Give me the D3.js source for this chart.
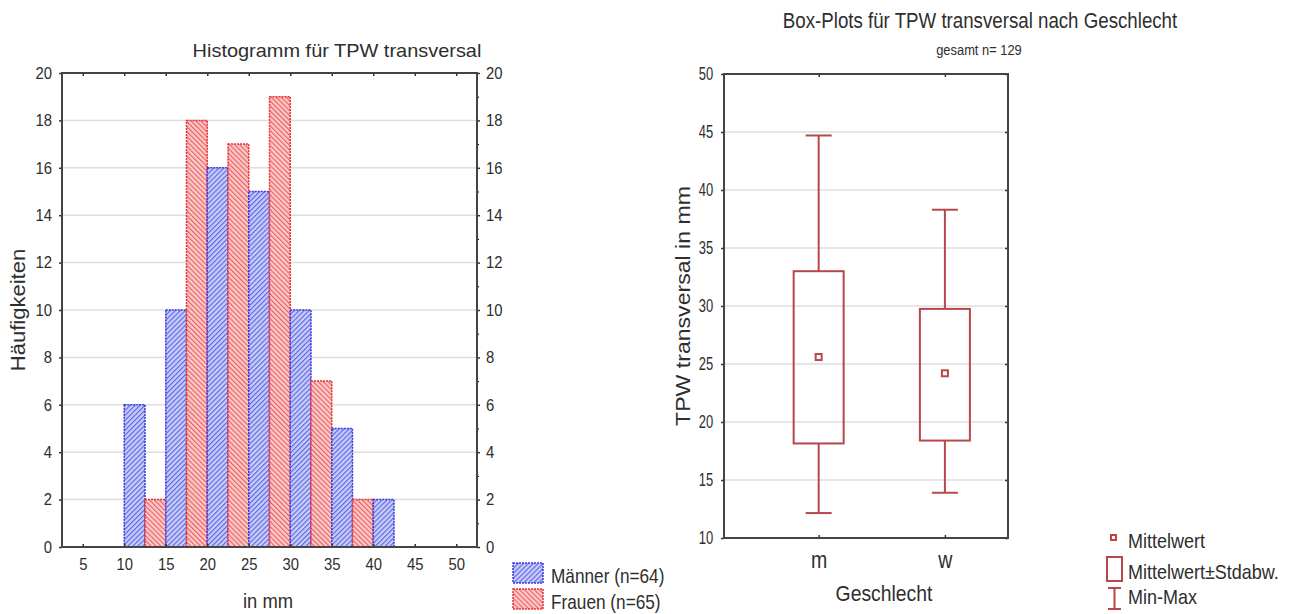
<!DOCTYPE html>
<html lang="de">
<head>
<meta charset="UTF-8">
<title>TPW transversal</title>
<script src="https://d3js.org/d3.v7.min.js"></script>
<style>
  body { margin: 0; background: #fff; }
  svg text { font-family: "Liberation Sans", Arial, sans-serif; fill: #2e2e2e; }
</style>
</head>
<body>
<div id="chart"></div>
<script>
// histogram data (bins of 5 mm, men left half, women right half)
var binStarts = [10, 15, 20, 25, 30, 35, 40];
var maenner = [6, 10, 16, 15, 10, 5, 2];
var frauen = [2, 18, 17, 19, 7, 2, 0];
var histXTicks = [5, 10, 15, 20, 25, 30, 35, 40, 45, 50];
var histYTicks = [0, 2, 4, 6, 8, 10, 12, 14, 16, 18, 20];

// box plot data
var groups = ["m", "w"];
var means = [25.6, 24.2];
var sdLow = [18.15, 18.4];
var sdHigh = [33.0, 29.75];
var mins = [12.15, 13.9];
var maxs = [44.7, 38.3];
var boxYTicks = [10, 15, 20, 25, 30, 35, 40, 45, 50];

var boxColor = "#b8474a";

var svg = d3.select("#chart").append("svg")
    .attr("width", 1292)
    .attr("height", 614);

var defs = svg.append("defs");

// condensed look: font size for height, horizontal squeeze for width
function narrow(sel, size, sx, origin) {
    sel.style("font-size", size + "px")
        .style("transform-box", "fill-box")
        .style("transform-origin", (origin || "center") + " center")
        .style("transform", "scaleX(" + sx + ")");
    return sel;
}

function hatch(id, bg, line, angle) {
    var p = defs.append("pattern")
        .attr("id", id)
        .attr("patternUnits", "userSpaceOnUse")
        .attr("width", 3.5)
        .attr("height", 3.5)
        .attr("patternTransform", "rotate(" + angle + ")");
    p.append("rect").attr("width", 3.5).attr("height", 3.5).attr("fill", bg);
    p.append("line").attr("x1", 0.6).attr("y1", 0).attr("x2", 0.6).attr("y2", 3.5)
        .attr("stroke", line).attr("stroke-width", 1.1);
}
hatch("hatchBlue", "#c9cef8", "#5560e6", 45);
hatch("hatchRed", "#fbcaca", "#ec5a5a", -45);

// ---------- Histogram ----------
var h = { left: 62, right: 477, top: 73, bottom: 547 };

var x = d3.scaleLinear().domain([2.5, 52.5]).range([h.left, h.right]);
var y = d3.scaleLinear().domain([0, 20]).range([h.bottom, h.top]);

var hg = svg.append("g");

// grid
hg.append("g").selectAll("line")
    .data(histYTicks.slice(1, -1))
    .enter().append("line")
    .attr("x1", h.left).attr("x2", h.right)
    .attr("y1", function(d) { return y(d); })
    .attr("y2", function(d) { return y(d); })
    .attr("stroke", "#dedede").attr("stroke-width", 1.5);

// bars
var barData = [];
binStarts.forEach(function(b, i) {
    barData.push({ x0: b, x1: b + 2.5, v: maenner[i], s: "m" });
    barData.push({ x0: b + 2.5, x1: b + 5, v: frauen[i], s: "f" });
});
barData = barData.filter(function(d) { return d.v > 0; });

hg.append("g").selectAll("rect")
    .data(barData)
    .enter().append("rect")
    .attr("x", function(d) { return x(d.x0); })
    .attr("y", function(d) { return y(d.v); })
    .attr("width", function(d) { return x(d.x1) - x(d.x0); })
    .attr("height", function(d) { return y(0) - y(d.v); })
    .attr("fill", function(d) { return d.s === "m" ? "url(#hatchBlue)" : "url(#hatchRed)"; })
    .attr("stroke", function(d) { return d.s === "m" ? "#3a3ae0" : "#e53535"; })
    .attr("stroke-width", 1.5)
    .attr("stroke-dasharray", "2,1");

// axes
var axB = hg.append("g")
    .attr("transform", "translate(0," + h.bottom + ")")
    .call(d3.axisBottom(x).tickValues(histXTicks).tickSize(-3).tickPadding(11));
var axT = hg.append("g")
    .attr("transform", "translate(0," + h.top + ")")
    .call(d3.axisTop(x).tickValues(histXTicks).tickSize(-3).tickFormat(""));
var axL = hg.append("g")
    .attr("transform", "translate(" + h.left + ",0)")
    .call(d3.axisLeft(y).tickValues(histYTicks).tickSize(3).tickPadding(7));
var axR = hg.append("g")
    .attr("transform", "translate(" + h.right + ",0)")
    .call(d3.axisRight(y).tickValues(histYTicks).tickSize(3).tickPadding(6));
hg.append("g")
    .attr("transform", "translate(" + h.right + ",0)")
    .call(d3.axisRight(y).tickValues(d3.range(1, 20, 2)).tickSize(2).tickFormat(""));

[axB, axT, axL, axR].forEach(function(a) {
    a.selectAll("line").attr("stroke", "#333").attr("stroke-width", 1.5);
    a.selectAll("text").attr("fill", "#2e2e2e");
});
hg.selectAll(".domain").remove();
narrow(axB.selectAll("text"), 16.5, 0.9, "center");
narrow(axL.selectAll("text"), 16.5, 0.9, "right");
narrow(axR.selectAll("text"), 16.5, 0.9, "left");

hg.append("rect")
    .attr("x", h.left).attr("y", h.top)
    .attr("width", h.right - h.left).attr("height", h.bottom - h.top)
    .attr("fill", "none").attr("stroke", "#444").attr("stroke-width", 2);

narrow(hg.append("text")
    .attr("x", 337).attr("y", 57)
    .attr("text-anchor", "middle")
    .text("Histogramm für TPW transversal"), 19, 1.05, "center");

narrow(hg.append("g")
    .attr("transform", "translate(25," + (h.top + h.bottom) / 2 + ") rotate(-90)")
    .append("text")
    .attr("text-anchor", "middle")
    .text("Häufigkeiten"), 21, 1.05, "center");

narrow(hg.append("text")
    .attr("x", 268).attr("y", 608)
    .attr("text-anchor", "middle")
    .text("in mm"), 20, 0.92, "center");

// legend
var histLegend = [
    { label: "Männer (n=64)", fill: "url(#hatchBlue)", stroke: "#3a3ae0" },
    { label: "Frauen (n=65)", fill: "url(#hatchRed)", stroke: "#e53535" }
];
var hl = hg.append("g").selectAll("g")
    .data(histLegend)
    .enter().append("g")
    .attr("transform", function(d, i) { return "translate(513," + (563 + i * 26) + ")"; });
hl.append("rect")
    .attr("width", 30).attr("height", 20)
    .attr("fill", function(d) { return d.fill; })
    .attr("stroke", function(d) { return d.stroke; })
    .attr("stroke-width", 1.5)
    .attr("stroke-dasharray", "2,1");
narrow(hl.append("text")
    .attr("x", 38).attr("y", 20)
    .text(function(d) { return d.label; }), 21, 0.82, "left");

// ---------- Box plot ----------
var b = { left: 724, right: 1008, top: 74, bottom: 538 };
var bx = d3.scaleLinear().domain([0.25, 2.5]).range([b.left, b.right]);
var by = d3.scaleLinear().domain([10, 50]).range([b.bottom, b.top]);

var bg = svg.append("g");

bg.append("g").selectAll("line")
    .data(boxYTicks.slice(1, -1))
    .enter().append("line")
    .attr("x1", b.left).attr("x2", b.right)
    .attr("y1", function(d) { return by(d); })
    .attr("y2", function(d) { return by(d); })
    .attr("stroke", "#dedede").attr("stroke-width", 1.5);

var boxData = groups.map(function(g, i) {
    return { g: g, pos: i + 1, mean: means[i], lo: sdLow[i], hi: sdHigh[i], min: mins[i], max: maxs[i] };
});

var bw = 50, cap = 26;
var bgs = bg.append("g").selectAll("g")
    .data(boxData)
    .enter().append("g");

bgs.append("line")
    .attr("x1", function(d) { return bx(d.pos); })
    .attr("x2", function(d) { return bx(d.pos); })
    .attr("y1", function(d) { return by(d.max); })
    .attr("y2", function(d) { return by(d.hi); });
bgs.append("line")
    .attr("x1", function(d) { return bx(d.pos); })
    .attr("x2", function(d) { return bx(d.pos); })
    .attr("y1", function(d) { return by(d.lo); })
    .attr("y2", function(d) { return by(d.min); });
bgs.append("line")
    .attr("x1", function(d) { return bx(d.pos) - cap / 2; })
    .attr("x2", function(d) { return bx(d.pos) + cap / 2; })
    .attr("y1", function(d) { return by(d.max); })
    .attr("y2", function(d) { return by(d.max); });
bgs.append("line")
    .attr("x1", function(d) { return bx(d.pos) - cap / 2; })
    .attr("x2", function(d) { return bx(d.pos) + cap / 2; })
    .attr("y1", function(d) { return by(d.min); })
    .attr("y2", function(d) { return by(d.min); });
bgs.append("rect")
    .attr("x", function(d) { return bx(d.pos) - bw / 2; })
    .attr("y", function(d) { return by(d.hi); })
    .attr("width", bw)
    .attr("height", function(d) { return by(d.lo) - by(d.hi); })
    .attr("fill", "none");
bgs.append("rect")
    .attr("x", function(d) { return bx(d.pos) - 3; })
    .attr("y", function(d) { return by(d.mean) - 3; })
    .attr("width", 6).attr("height", 6)
    .attr("fill", "#fff");
bgs.selectAll("line, rect")
    .attr("stroke", boxColor).attr("stroke-width", 2);

var bxAxB = bg.append("g")
    .attr("transform", "translate(0," + b.bottom + ")")
    .call(d3.axisBottom(bx).tickValues([1, 2]).tickSize(-3).tickPadding(14)
        .tickFormat(function(d) { return groups[d - 1]; }));
var bxAxT = bg.append("g")
    .attr("transform", "translate(0," + b.top + ")")
    .call(d3.axisTop(bx).tickValues([1, 2]).tickSize(-3).tickFormat(""));
var byAxL = bg.append("g")
    .attr("transform", "translate(" + b.left + ",0)")
    .call(d3.axisLeft(by).tickValues(boxYTicks).tickSize(3).tickPadding(8));
var byAxR = bg.append("g")
    .attr("transform", "translate(" + b.right + ",0)")
    .call(d3.axisRight(by).tickValues(boxYTicks).tickSize(-3).tickFormat(""));

[bxAxB, bxAxT, byAxL, byAxR].forEach(function(a) {
    a.selectAll("line").attr("stroke", "#333").attr("stroke-width", 1.5);
    a.selectAll("text").attr("fill", "#2e2e2e");
});
bg.selectAll(".domain").remove();
narrow(byAxL.selectAll("text"), 18, 0.72, "right");
narrow(bxAxB.selectAll("text"), 23, 0.85, "center");

bg.append("rect")
    .attr("x", b.left).attr("y", b.top)
    .attr("width", b.right - b.left).attr("height", b.bottom - b.top)
    .attr("fill", "none").attr("stroke", "#444").attr("stroke-width", 2);

narrow(bg.append("text")
    .attr("x", 980).attr("y", 28)
    .attr("text-anchor", "middle")
    .text("Box-Plots für TPW transversal nach Geschlecht"), 22, 0.85, "center");

narrow(bg.append("text")
    .attr("x", 979).attr("y", 55)
    .attr("text-anchor", "middle")
    .text("gesamt n= 129"), 15, 0.86, "center");

narrow(bg.append("g")
    .attr("transform", "translate(690," + (b.top + b.bottom) / 2 + ") rotate(-90)")
    .append("text")
    .attr("text-anchor", "middle")
    .text("TPW transversal in mm"), 21, 1.1, "center");

narrow(bg.append("text")
    .attr("x", 884).attr("y", 601)
    .attr("text-anchor", "middle")
    .text("Geschlecht"), 22, 0.88, "center");

// legend
var lg = bg.append("g").attr("transform", "translate(1106,0)");
lg.append("rect").attr("x", 5).attr("y", 535).attr("width", 5).attr("height", 5)
    .attr("fill", "#fff").attr("stroke", boxColor).attr("stroke-width", 2);
lg.append("rect").attr("x", 1).attr("y", 557).attr("width", 15).attr("height", 24)
    .attr("fill", "none").attr("stroke", boxColor).attr("stroke-width", 2);
lg.append("line").attr("x1", 8.5).attr("x2", 8.5).attr("y1", 588).attr("y2", 609)
    .attr("stroke", boxColor).attr("stroke-width", 2);
lg.append("line").attr("x1", 2).attr("x2", 15).attr("y1", 588).attr("y2", 588)
    .attr("stroke", boxColor).attr("stroke-width", 2);
lg.append("line").attr("x1", 2).attr("x2", 15).attr("y1", 609).attr("y2", 609)
    .attr("stroke", boxColor).attr("stroke-width", 2);
var lgLabels = ["Mittelwert", "Mittelwert±Stdabw.", "Min-Max"];
narrow(lg.selectAll("text.lbl")
    .data(lgLabels)
    .enter().append("text")
    .attr("class", "lbl")
    .attr("x", 22)
    .attr("y", function(d, i) { return [548, 579, 604][i]; })
    .text(function(d) { return d; }), 20, 0.9, "left");
</script>
</body>
</html>
